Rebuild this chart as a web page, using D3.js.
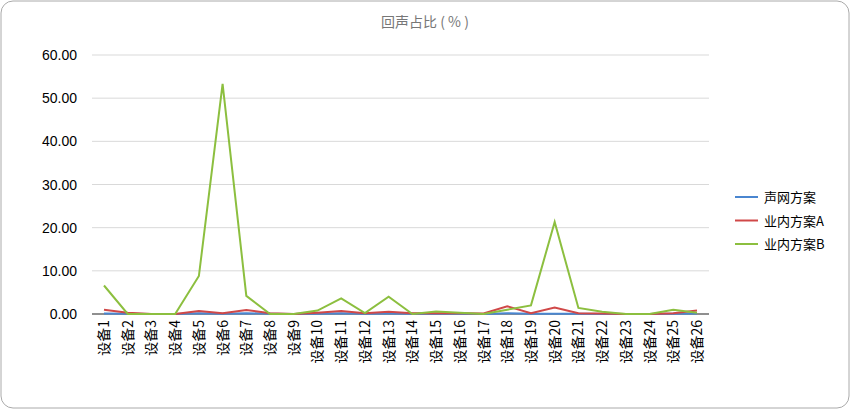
<!DOCTYPE html><html><head><meta charset="utf-8"><script src="https://cdn.jsdelivr.net/npm/d3@7"></script>
<style>body{margin:0;background:#fff}svg{font-family:"Noto Sans CJK SC","Noto Sans",sans-serif}</style></head><body><svg id="c" width="850" height="409"></svg><script>
const categories=d3.range(1,27).map(i=>"设备"+i);
const seriesNames=["声网方案","业内方案A","业内方案B"];
const colors=["#4a86d0","#d04848","#8cbf3f"];
const blue=[0.1,0.05,0,0,0.2,0.05,0.2,0.05,0,0.05,0.2,0.05,0.1,0.05,0.05,0.05,0,0.2,0.05,0.05,0.05,0,0,0,0.05,0.1];
const redA=[1.0,0.3,0,0,0.7,0.2,0.9,0.2,0,0.3,0.7,0.2,0.5,0.2,0.2,0.2,0.1,1.8,0.2,1.5,0.2,0.1,0,0,0.2,0.8];
const greenB=[6.6,0,0,0,8.8,53.3,4.2,0,0,0.8,3.6,0.2,4.0,0,0.6,0.3,0,1.0,2.0,21.3,1.4,0.5,0,0,1.0,0.3];
const yTicks=[0,10,20,30,40,50,60];
const series=[blue,redA,greenB];
const svg=d3.select("#c");
svg.append("rect").attr("x",1).attr("y",1).attr("width",848).attr("height",407).attr("rx",12).attr("fill","#fff").attr("stroke","#aaa");
svg.append("text").attr("x",425).attr("y",27).attr("text-anchor","middle").attr("font-size",14).attr("fill","#777").text("回声占比 ( % )");
const x=d3.scalePoint().domain(categories).range([104,697]);
const y=d3.scaleLinear().domain([0,60]).range([314,55]);
const g=svg.append("g");
g.selectAll("line.grid").data(yTicks).join("line").attr("x1",92).attr("x2",709).attr("y1",d=>y(d)).attr("y2",d=>y(d)).attr("stroke","#d9d9d9");
g.selectAll("text.yl").data(yTicks).join("text").attr("x",77).attr("y",d=>y(d)+5).attr("text-anchor","end").attr("font-size",14).attr("font-family","Liberation Sans, Arial").text(d=>d.toFixed(2));
g.append("line").attr("x1",92).attr("x2",709).attr("y1",y(0)).attr("y2",y(0)).attr("stroke","#333");
g.selectAll("text.xl").data(categories).join("text").attr("transform",d=>`translate(${x(d)+5},320) rotate(-90)`).attr("text-anchor","end").attr("font-size",14).text(d=>d);
const line=d3.line().x((d,i)=>x(categories[i])).y(d=>y(d));
series.forEach((s,k)=>g.append("path").attr("d",line(s)).attr("fill","none").attr("stroke",colors[k]).attr("stroke-width",2));
seriesNames.forEach((n,k)=>{const yy=197+k*23.5;
svg.append("line").attr("x1",735).attr("x2",758).attr("y1",yy).attr("y2",yy).attr("stroke",colors[k]).attr("stroke-width",2);
svg.append("text").attr("x",764).attr("y",yy+5).attr("font-size",13).text(n);});
</script></body></html>
